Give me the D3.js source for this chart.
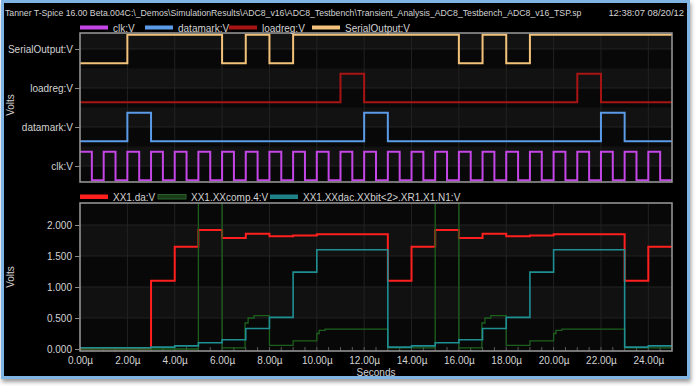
<!DOCTYPE html>
<meta charset="utf-8">
<style>
body { margin: 0; background: #ffffff; }
text { font-family: "Liberation Sans", Arial, sans-serif; fill: #d2d2d2; }
.axis text { font-size: 10px; fill: #d2d2d2; }
.axis line { stroke: #8a8a8a; }
.axis path { display: none; }
</style>
<body>
<script src="https://d3js.org/d3.v7.min.js"></script>
<script>

// ---- data (times in µs, levels in volts) ----
var laneNames = ["SerialOutput:V", "loadreg:V", "datamark:V", "clk:V"];

var serialTimes  = [0, 2, 6, 7, 8, 9, 16, 17, 18, 19, 25];
var serialLevels = [0, 3.3, 0, 3.3, 0, 3.3, 0, 3.3, 0, 3.3, 3.3];

var loadregTimes  = [0, 11, 12, 21, 22, 25];
var loadregLevels = [0, 3.3, 0, 3.3, 0, 0];

var datamarkTimes  = [0, 2, 3, 12, 13, 22, 23, 25];
var datamarkLevels = [0, 3.3, 0, 3.3, 0, 3.3, 0, 0];

var clkTimes  = [0, 0.5, 1, 1.5, 2, 2.5, 3, 3.5, 4, 4.5, 5, 5.5, 6, 6.5, 7, 7.5, 8, 8.5, 9, 9.5,
                 10, 10.5, 11, 11.5, 12, 12.5, 13, 13.5, 14, 14.5, 15, 15.5, 16, 16.5, 17, 17.5,
                 18, 18.5, 19, 19.5, 20, 20.5, 21, 21.5, 22, 22.5, 23, 23.5, 24, 24.5, 25];
var clkLevels = [3.3, 0, 3.3, 0, 3.3, 0, 3.3, 0, 3.3, 0, 3.3, 0, 3.3, 0, 3.3, 0, 3.3, 0, 3.3, 0,
                 3.3, 0, 3.3, 0, 3.3, 0, 3.3, 0, 3.3, 0, 3.3, 0, 3.3, 0, 3.3, 0,
                 3.3, 0, 3.3, 0, 3.3, 0, 3.3, 0, 3.3, 0, 3.3, 0, 3.3, 0, 0];

var anaTimes  = [0, 3, 4, 5, 6, 7, 8, 9, 10, 13, 14, 15, 16, 17, 18, 19, 20, 23, 24, 25];
var daValues  = [0.01, 1.10, 1.65, 1.92, 1.79, 1.86, 1.82, 1.83, 1.85, 1.10, 1.65, 1.92, 1.79, 1.86, 1.82, 1.83, 1.85, 1.10, 1.65, 1.65];
var dacValues = [0.02, 0.03, 0.05, 0.10, 0.15, 0.33, 0.51, 1.24, 1.60, 0.03, 0.05, 0.10, 0.15, 0.33, 0.51, 1.24, 1.60, 0.03, 0.05, 0.05];

var compTimes  = [0, 5, 6, 6.97, 7.1, 7.35, 8, 9, 10, 10.1, 10.35, 13, 15, 16, 16.97, 17.1, 17.35, 18, 19, 20, 20.1, 20.35, 23, 25];
var compValues = [0, 3.3, 0.02, 0.42, 0.50, 0.54, 0.06, 0.13, 0.25, 0.30, 0.32, 0.02, 3.3, 0.02, 0.42, 0.50, 0.54, 0.06, 0.13, 0.25, 0.30, 0.32, 0.02, 0.02];

var xTicks = [0, 2, 4, 6, 8, 10, 12, 14, 16, 18, 20, 22, 24];
var yTicks = [0, 0.5, 1.0, 1.5, 2.0];

var title = "Tanner T-Spice 16.00 Beta.004C:\\_Demos\\SimulationResults\\ADC8_v16\\ADC8_Testbench\\Transient_Analysis_ADC8_Testbench_ADC8_v16_TSP.sp";
var stamp = "12:38:07 08/20/12";

// ---- layout ----
var width = 696, height = 386;
var left = 80, right = 672;
var top1 = 33, bot1 = 182;
var top2 = 203, bot2 = 351;

var svg = d3.select("body").append("svg")
    .attr("width", width)
    .attr("height", height);

var defs = svg.append("defs");
var sh = defs.append("filter").attr("id", "shadow").attr("x", "-5%").attr("y", "-5%").attr("width", "110%").attr("height", "115%");
sh.append("feDropShadow").attr("dx", 1).attr("dy", 3).attr("stdDeviation", 2).attr("flood-color", "#555").attr("flood-opacity", 0.6);

// frame
svg.append("rect")
    .attr("x", 2.5).attr("y", 1.5)
    .attr("width", 686).attr("height", 376)
    .attr("fill", "#000")
    .attr("stroke", "#7fb4e4")
    .attr("stroke-width", 3)
    .attr("filter", "url(#shadow)");

svg.append("text").attr("x", 5).attr("y", 16)
    .style("font-size", "8.7px").text(title);
svg.append("text").attr("x", 684).attr("y", 16)
    .attr("text-anchor", "end").style("font-size", "9.4px").text(stamp);

// scales
var x = d3.scaleLinear().domain([0, 25]).range([left, right]);
var lane = d3.scalePoint().domain(laneNames).range([49, 166]);
var laneV = d3.scaleLinear().domain([0, 3.3]).range([14.3, -14.3]);
var y = d3.scaleLinear().domain([-0.032, 2.355]).range([bot2, top2]);

// ---------- top plot ----------
var g1 = svg.append("g");
g1.append("rect").attr("x", left).attr("y", top1).attr("width", right - left).attr("height", bot1 - top1).attr("fill", "#080808");

// bands: from lane boundary down to lane centre
var laneStep = lane.step();
laneNames.forEach(function(n) {
  var c = lane(n);
  var t = Math.max(top1, c - laneStep / 2);
  g1.append("rect").attr("x", left).attr("y", t).attr("width", right - left).attr("height", c - t).attr("fill", "#121212");
  g1.append("line").attr("x1", left).attr("x2", right).attr("y1", c).attr("y2", c).attr("stroke", "#222");
});

g1.selectAll(".vg").data(xTicks.slice(1)).enter().append("line")
    .attr("x1", d => x(d)).attr("x2", d => x(d))
    .attr("y1", top1).attr("y2", bot1)
    .attr("stroke", "#222");

var digital = [
  {name: "SerialOutput:V", t: serialTimes, v: serialLevels, color: "#f2c27a"},
  {name: "loadreg:V", t: loadregTimes, v: loadregLevels, color: "#a81414"},
  {name: "datamark:V", t: datamarkTimes, v: datamarkLevels, color: "#5b9be8"},
  {name: "clk:V", t: clkTimes, v: clkLevels, color: "#c446e6"}
];

digital.forEach(function(s) {
  var c = lane(s.name);
  var pts = s.t.map((t, i) => [t, s.v[i]]);
  var line = d3.line()
      .x(d => x(d[0]))
      .y(d => c + laneV(d[1]))
      .curve(d3.curveStepAfter);
  g1.append("path").datum(pts)
      .attr("fill", "none").attr("stroke", s.color).attr("stroke-width", 2)
      .attr("d", line);
});

g1.append("rect").attr("x", left).attr("y", top1).attr("width", right - left).attr("height", bot1 - top1)
    .attr("fill", "none").attr("stroke", "#9a9a9a").attr("stroke-width", 1.5);

g1.append("g").attr("class", "axis")
    .attr("transform", "translate(" + left + ",0)")
    .call(d3.axisLeft(lane).tickSize(5).tickPadding(2));

svg.append("text").attr("transform", "translate(14,105) rotate(-90)")
    .attr("text-anchor", "middle").style("font-size", "10px").text("Volts");

// top legend
var leg1 = [
  {label: "clk:V", color: "#c446e6", x: 80},
  {label: "datamark:V", color: "#5b9be8", x: 145},
  {label: "loadreg:V", color: "#a81414", x: 229},
  {label: "SerialOutput:V", color: "#f2c27a", x: 312}
];
leg1.forEach(function(d) {
  svg.append("rect").attr("x", d.x).attr("y", 25.5).attr("width", 28).attr("height", 4).attr("fill", d.color);
  svg.append("text").attr("x", d.x + 33).attr("y", 31.5).style("font-size", "10px").text(d.label);
});

// ---------- bottom plot ----------
var g2 = svg.append("g");
g2.append("rect").attr("x", left).attr("y", top2).attr("width", right - left).attr("height", bot2 - top2).attr("fill", "#080808");
[[2.0, 1.5], [1.0, 0.5]].forEach(function(b) {
  g2.append("rect").attr("x", left).attr("y", y(b[0])).attr("width", right - left)
      .attr("height", y(b[1]) - y(b[0])).attr("fill", "#111");
});
g2.selectAll(".hg").data(yTicks.slice(1)).enter().append("line")
    .attr("x1", left).attr("x2", right)
    .attr("y1", d => y(d)).attr("y2", d => y(d))
    .attr("stroke", "#222");
g2.selectAll(".vg").data(xTicks.slice(1)).enter().append("line")
    .attr("x1", d => x(d)).attr("x2", d => x(d))
    .attr("y1", top2).attr("y2", bot2)
    .attr("stroke", "#222");

// minor ticks along bottom edge
g2.selectAll(".mt").data(d3.range(0.5, 25, 0.5)).enter().append("line")
    .attr("x1", d => x(d)).attr("x2", d => x(d))
    .attr("y1", bot2).attr("y2", bot2 - 4)
    .attr("stroke", "#5a5a5a");

var clip = defs.append("clipPath").attr("id", "clip2");
clip.append("rect").attr("x", left).attr("y", top2).attr("width", right - left).attr("height", bot2 - top2);

var analog = [
  {t: anaTimes, v: daValues, color: "#ff1f1f", w: 2},
  {t: compTimes, v: compValues, color: "#1d601d", w: 1.3},
  {t: anaTimes, v: dacValues, color: "#1f8f93", w: 1.6}
];
var lines2 = g2.append("g").attr("clip-path", "url(#clip2)");
analog.forEach(function(s) {
  var pts = s.t.map((t, i) => [t, s.v[i]]);
  var line = d3.line()
      .x(d => x(d[0]))
      .y(d => y(d[1]))
      .curve(d3.curveStepAfter);
  lines2.append("path").datum(pts)
      .attr("fill", "none").attr("stroke", s.color).attr("stroke-width", s.w)
      .attr("d", line);
});

g2.append("rect").attr("x", left).attr("y", top2).attr("width", right - left).attr("height", bot2 - top2)
    .attr("fill", "none").attr("stroke", "#9a9a9a").attr("stroke-width", 1.5);

g2.append("g").attr("class", "axis")
    .attr("transform", "translate(" + left + ",0)")
    .call(d3.axisLeft(y).tickValues(yTicks).tickFormat(d3.format(".3f")).tickSize(5).tickPadding(3));

g2.append("g").attr("class", "axis")
    .attr("transform", "translate(0," + bot2 + ")")
    .call(d3.axisBottom(x).tickValues(xTicks).tickFormat(d => d.toFixed(2) + "µ").tickSize(0).tickPadding(6));

svg.append("text").attr("x", (left + right) / 2).attr("y", 376)
    .attr("text-anchor", "middle").style("font-size", "10px").text("Seconds");
svg.append("text").attr("transform", "translate(14,277) rotate(-90)")
    .attr("text-anchor", "middle").style("font-size", "10px").text("Volts");

// bottom legend
var leg2 = [
  {label: "XX1.da:V", color: "#ff1f1f", x: 80},
  {label: "XX1.XXcomp.4:V", color: "#183c18", x: 158},
  {label: "XX1.XXdac.XXbit<2>.XR1.X1.N1:V", color: "#1f8088", x: 270}
];
leg2.forEach(function(d) {
  svg.append("rect").attr("x", d.x).attr("y", 194.5).attr("width", 28).attr("height", 4.5)
      .attr("fill", d.color).attr("stroke", d.label == "XX1.XXcomp.4:V" ? "#2c5e2c" : "none");
  svg.append("text").attr("x", d.x + 33).attr("y", 200.5).style("font-size", "10px").text(d.label);
});

</script>
</body>
